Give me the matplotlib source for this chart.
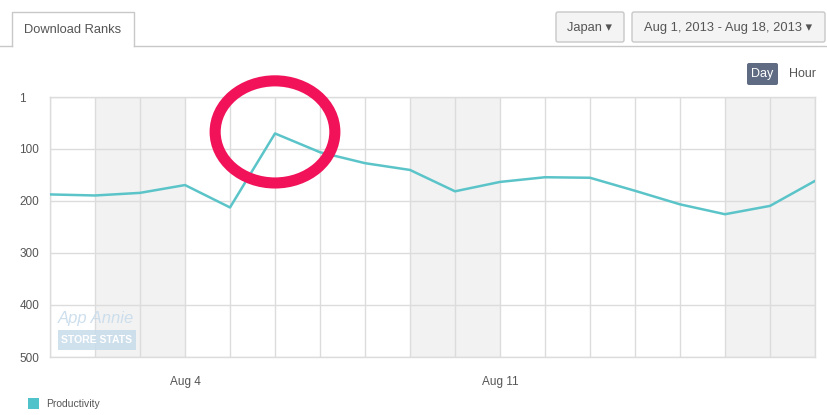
import matplotlib
matplotlib.use("Agg")
import matplotlib.pyplot as plt
from matplotlib.patches import Rectangle, Ellipse, FancyBboxPatch
import numpy as np

plt.rcParams['font.family'] = ['Liberation Sans', 'DejaVu Sans']

# ---- data ----
days = list(range(1, 19))  # Aug 1 .. Aug 18, 2013
ranks = [188, 190, 185, 170, 213, 71, 107, 128, 141, 182, 164, 155, 156, 181, 207, 226, 210, 162]
series_name = "Productivity"
y_ticks = [1, 100, 200, 300, 400, 500]
x_tick_days = [4, 11]
x_tick_labels = ["Aug 4", "Aug 11"]
weekend_spans = [(2, 4), (9, 11), (16, 18)]
highlight_day = 6
highlight_rank = 68

W, H = 828, 415
fig = plt.figure(figsize=(W / 100, H / 100), dpi=100)

def fx(px):
    return px / W

def fy(py):
    return 1 - py / H

ax = fig.add_axes([fx(50), fy(357), fx(815) - fx(50), fy(97) - fy(357)])
ax.set_xlim(1, 18)
ax.set_ylim(500, 1)

for a, b in weekend_spans:
    ax.axvspan(a, b, color='#f2f2f2', zorder=0, lw=0)

ax.set_xticks(days)
ax.set_xticklabels([x_tick_labels[x_tick_days.index(d)] if d in x_tick_days else "" for d in days])
ax.set_yticks(y_ticks)
ax.set_yticklabels([str(v) for v in y_ticks])
ax.grid(True, color='#dcdcdc', lw=1)
ax.set_axisbelow(True)
ax.tick_params(length=0, colors='#555555', labelsize=8.5)
ax.tick_params(axis='x', pad=14)
for lbl in ax.get_yticklabels():
    lbl.set_horizontalalignment('left')
ax.tick_params(axis='y', pad=22)
for s in ax.spines.values():
    s.set_color('#dcdcdc')
    s.set_linewidth(1)

ax.plot(days, ranks, color='#5bc4c9', lw=1.8, zorder=3)

# red highlight circle
ell = Ellipse((highlight_day, highlight_rank), width=2.66, height=196,
              fill=False, edgecolor='#f2125a', lw=8, clip_on=False, zorder=5)
ax.add_patch(ell)

# overlay for header, legend and watermark
ov = fig.add_axes([0, 0, 1, 1], zorder=-1)
ov.set_xlim(0, W)
ov.set_ylim(H, 0)
ov.axis('off')

# header line and tab
ov.plot([0, 12], [46, 46], color='#c8c8c8', lw=1)
ov.plot([134, W], [46, 46], color='#c8c8c8', lw=1)
ov.plot([12, 12, 134, 134], [46, 12, 12, 46], color='#c8c8c8', lw=1)
ov.text(73, 30, "Download Ranks", ha='center', va='center', fontsize=9.3, color='#555555')

# buttons
ov.add_patch(FancyBboxPatch((556, 12), 68, 30, boxstyle="round,pad=0,rounding_size=2",
                            facecolor='#f4f4f4', edgecolor='#c8c8c8', lw=1))
ov.text(590, 27.5, "Japan \u25be", ha='center', va='center', fontsize=9.3, color='#555555')
ov.add_patch(FancyBboxPatch((632, 12), 193, 30, boxstyle="round,pad=0,rounding_size=2",
                            facecolor='#f4f4f4', edgecolor='#c8c8c8', lw=1))
ov.text(728.5, 27.5, "Aug 1, 2013 - Aug 18, 2013 \u25be", ha='center', va='center', fontsize=9.3, color='#555555')

ov.add_patch(FancyBboxPatch((747, 63), 31, 22, boxstyle="round,pad=0,rounding_size=2",
                            facecolor='#5e6b82', edgecolor='none'))
ov.text(762.5, 74, "Day", ha='center', va='center', fontsize=9, color='white')
ov.text(803, 74, "Hour", ha='center', va='center', fontsize=9, color='#555555')

# legend
ov.add_patch(Rectangle((28, 398), 11, 11, facecolor='#4fc3c9', edgecolor='none'))
ov.text(46, 404, series_name, ha='left', va='center', fontsize=7.5, color='#555555')

# watermark
wm = fig.add_axes([0, 0, 1, 1], zorder=4)
wm.set_xlim(0, W)
wm.set_ylim(H, 0)
wm.axis('off')
wm.text(96, 318, "App Annie", ha='center', va='center', fontsize=12, style='italic',
        color='#c8dcec', alpha=0.9)
wm.add_patch(Rectangle((58, 330), 78, 20, facecolor='#c8dcec', edgecolor='none', alpha=0.85))
wm.text(97, 340, "STORE STATS", ha='center', va='center', fontsize=7.5, weight='bold', color='white')

fig.savefig("out.png", dpi=100)
